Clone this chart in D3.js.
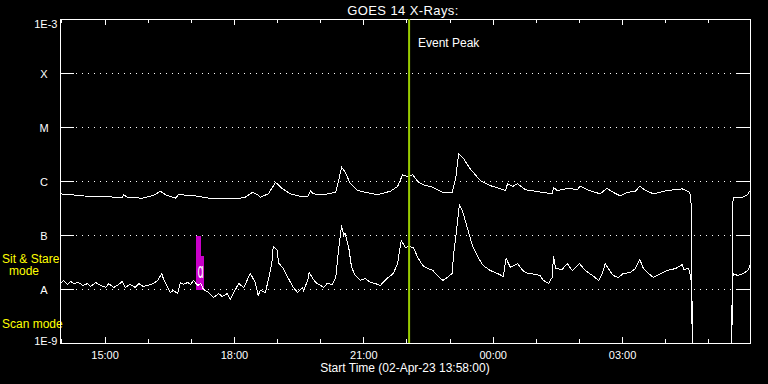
<!DOCTYPE html>
<html>
<head>
<meta charset="utf-8">
<script src="https://cdn.jsdelivr.net/npm/d3@7"></script>
<style>
  html, body { margin: 0; padding: 0; background: #000; }
  svg { display: block; background: #000; }
  text { font-family: "Liberation Sans", Arial, sans-serif; fill: #fff; }
</style>
</head>
<body>
<svg id="chart" width="768" height="384"></svg>
<script>
// GOES 14 X-ray flux, 02-Apr-23 13:58 -> 03-Apr-23 05:58
var startTime = "13:58",
    endTime = "05:58",
    eventPeak = "22:03";

// long channel (1-8 A), W/m^2 ; 0 = data dropout
var longTimes = ["13:58", "14:12", "14:37", "15:24", "15:26", "15:31", "15:52", "16:07", "16:17", "16:24",
    "16:38", "16:42", "17:02", "17:17", "17:29", "18:04", "18:15", "18:25", "18:32", "18:36",
    "18:47", "18:53", "18:57", "19:07", "19:18", "19:32", "19:42", "19:46", "19:50", "20:04",
    "20:21", "20:25", "20:29", "20:34", "20:41", "20:51", "21:19", "21:37", "21:47", "21:54",
    "22:01", "22:08", "22:16", "22:23", "22:36", "22:50", "23:03", "23:08", "23:12", "23:19",
    "23:28", "23:42", "23:56", "00:17", "00:20", "00:27", "00:34", "00:45", "00:52", "01:16",
    "01:22", "01:24", "01:29", "01:45", "01:57", "02:01", "02:11", "02:29", "02:38", "02:47",
    "02:57", "03:07", "03:18", "03:24", "03:32", "03:43", "04:02", "04:23", "04:32", "04:35",
    "04:36", "04:37", "05:32", "05:33", "05:34", "05:47", "05:54", "05:58"];
var longFlux = [5.9e-7, 5.7e-7, 5.3e-7, 5.1e-7, 5.7e-7, 5.1e-7, 4.9e-7, 5.5e-7, 6.6e-7, 5.7e-7,
    4.9e-7, 5.7e-7, 5.5e-7, 5.1e-7, 4.8e-7, 4.8e-7, 5.1e-7, 6.3e-7, 5.7e-7, 5.1e-7,
    5.9e-7, 7.8e-7, 9.7e-7, 7.3e-7, 5.9e-7, 5.3e-7, 5.3e-7, 6.6e-7, 5.9e-7, 5.7e-7,
    6.3e-7, 1.04e-6, 1.84e-6, 1.49e-6, 9.3e-7, 6.8e-7, 5.7e-7, 6.6e-7, 8.1e-7, 1.33e-6,
    1.24e-6, 1.33e-6, 9.7e-7, 8.7e-7, 7.8e-7, 6.3e-7, 6.2e-7, 1.2e-6, 3.26e-6, 2.63e-6,
    1.72e-6, 1.04e-6, 8.4e-7, 6.8e-7, 9.1e-7, 8.1e-7, 9.1e-7, 7.0e-7, 6.8e-7, 6.1e-7,
    5.9e-7, 7.8e-7, 6.8e-7, 7.5e-7, 7.0e-7, 8.2e-7, 7.0e-7, 5.9e-7, 7.5e-7, 6.3e-7,
    5.4e-7, 6.3e-7, 6.6e-7, 8.2e-7, 6.8e-7, 5.9e-7, 6.8e-7, 7.3e-7, 6.5e-7, 5.5e-7,
    1.5e-7, 0, 0, 3.3e-7, 5.0e-7, 5.1e-7, 5.7e-7, 7.0e-7];

// short channel (0.5-4 A), in units of 1e-9 W/m^2 ; 0 = data dropout
var shortTimes = ["13:58", "13:59", "14:02", "14:08", "14:12", "14:16", "14:23", "14:29", "14:36", "14:40",
    "14:47", "14:54", "15:01", "15:05", "15:12", "15:19", "15:24", "15:28", "15:35", "15:42",
    "15:47", "15:53", "16:00", "16:07", "16:13", "16:19", "16:21", "16:27", "16:31", "16:35",
    "16:41", "16:45", "16:49", "16:55", "16:59", "17:03", "17:09", "17:13", "17:17", "17:24",
    "17:31", "17:38", "17:43", "17:50", "17:54", "17:59", "18:06", "18:13", "18:22", "18:29",
    "18:33", "18:36", "18:43", "18:47", "18:52", "18:54", "19:00", "19:01", "19:08", "19:18",
    "19:22", "19:28", "19:35", "19:36", "19:42", "19:44", "19:49", "19:53", "20:00", "20:04",
    "20:09", "20:16", "20:21", "20:25", "20:29", "20:32", "20:34", "20:39", "20:43", "20:48",
    "20:55", "21:02", "21:09", "21:16", "21:23", "21:27", "21:34", "21:41", "21:47", "21:52",
    "21:58", "22:02", "22:09", "22:15", "22:22", "22:29", "22:36", "22:42", "22:50", "22:56",
    "23:03", "23:05", "23:09", "23:13", "23:17", "23:24", "23:31", "23:40", "23:46", "23:56",
    "00:06", "00:14", "00:18", "00:24", "00:34", "00:41", "00:48", "00:52", "01:05", "01:10",
    "01:17", "01:22", "01:24", "01:27", "01:36", "01:43", "01:50", "02:00", "02:08", "02:18",
    "02:27", "02:32", "02:36", "02:40", "02:47", "02:54", "03:01", "03:11", "03:18", "03:24",
    "03:29", "03:36", "03:43", "03:53", "04:02", "04:14", "04:23", "04:25", "04:32", "04:35",
    "04:36", "04:37", "05:32", "05:33", "05:34", "05:40", "05:48", "05:54", "05:58"];
var shortFluxNano = [13.5, 13.5, 14.7, 12.4, 14.1, 12.9, 13.5, 11.9, 12.9, 11.4,
    13.5, 11.9, 10.9, 12.9, 10.9, 12.4, 14.1, 10.9, 12.4, 10.9,
    12.9, 11.4, 11.9, 12.9, 14.7, 19.8, 16.0, 10.9, 8.8, 9.6,
    8.4, 13.5, 12.4, 13.5, 12.4, 14.7, 11.9, 12.9, 10.0, 8.8,
    7.1, 8.4, 7.4, 8.4, 6.5, 8.8, 12.9, 10.9, 19.8, 13.5,
    7.7, 9.6, 8.8, 14.7, 30.3, 62.5, 52.7, 31.6, 24.5, 13.5,
    10.9, 8.8, 10.9, 9.6, 14.7, 20.7, 16.0, 13.5, 11.9, 10.9,
    12.9, 12.4, 16.7, 57.4, 153, 100, 109, 60, 25.6, 18.2,
    14.7, 16.0, 13.5, 12.9, 11.9, 13.5, 16.7, 19.8, 30.3, 80.7,
    60, 62.5, 60, 39.1, 27.8, 24.5, 22.5, 18.2, 14.7, 16.7,
    19.8, 46.5, 124, 375, 290, 140, 65.3, 37.5, 27.8, 22.5,
    19.8, 17.4, 37.5, 25.6, 30.3, 22.5, 19.8, 19.8, 18.2, 14.7,
    12.9, 16.7, 40.8, 24.5, 23.5, 30.3, 22.5, 30.3, 22.5, 18.2,
    14.7, 19.8, 30.3, 24.5, 18.2, 16.7, 19.8, 20.7, 24.5, 36,
    24.5, 19.8, 16.7, 19.8, 22.5, 24.5, 29.0, 23.5, 24.5, 16.7,
    9.6, 0, 0, 14.7, 19.8, 18.2, 19.8, 22.5, 29.0];

// y axis: flux levels and their labels
var levelValues = [1e-9, 1e-8, 1e-7, 1e-6, 1e-5, 1e-4, 1e-3];
var levelLabels = ["1E-9", "A", "B", "C", "M", "X", "1E-3"];

// sit & stare mode blocks
var modeFrom = ["17:06", "17:13"],
    modeTo = ["17:13", "17:18"],
    modeTop = [1e-7, 4.1e-8];

var svg = d3.select("#chart"),
    plotL = 60, plotR = 750, plotT = 19, plotB = 343;

function parseTime(s) {
    var p = s.split(":"), h = +p[0], m = +p[1];
    return new Date(2023, 3, h < 12 ? 3 : 2, h, m);
}

var x = d3.scaleTime()
    .domain([parseTime(startTime), parseTime(endTime)])
    .range([plotL + 0.5, plotR + 0.5]);

var y = d3.scaleLog()
    .domain([1e-9, 1e-3])
    .range([plotB + 0.5, plotT + 0.5]);

function yVal(v) { return v > 0 ? y(v) : plotB + 0.5; }

var longData = longTimes.map(function (t, i) { return { t: parseTime(t), v: longFlux[i] }; });
var shortData = shortTimes.map(function (t, i) { return { t: parseTime(t), v: shortFluxNano[i] * 1e-9 }; });

// title
svg.append("text")
    .attr("x", 403).attr("y", 15)
    .attr("text-anchor", "middle")
    .style("font-size", "13px")
    .style("letter-spacing", "0.4px")
    .text("GOES 14 X-Rays:");

// grid lines (dotted) and y ticks
var inner = levelValues.slice(1, -1);
svg.append("g").selectAll("line")
    .data(inner)
    .enter().append("line")
    .attr("x1", plotL + 16).attr("x2", plotR - 14)
    .attr("y1", function (d) { return y(d); })
    .attr("y2", function (d) { return y(d); })
    .attr("stroke", "#fff")
    .attr("stroke-dasharray", "1 5")
    .attr("shape-rendering", "crispEdges");

var yt = svg.append("g").attr("shape-rendering", "crispEdges");
yt.selectAll(".tl").data(inner).enter().append("line")
    .attr("x1", plotL).attr("x2", plotL + 14)
    .attr("y1", function (d) { return y(d); })
    .attr("y2", function (d) { return y(d); })
    .attr("stroke", "#fff");
yt.selectAll(".tr").data(inner).enter().append("line")
    .attr("x1", plotR - 14).attr("x2", plotR)
    .attr("y1", function (d) { return y(d); })
    .attr("y2", function (d) { return y(d); })
    .attr("stroke", "#fff");

// y labels
svg.append("g").selectAll("text")
    .data(levelValues)
    .enter().append("text")
    .attr("x", function (d, i) { return (i === 0 || i === levelValues.length - 1) ? 57.5 : 44; })
    .attr("y", function (d, i) {
        if (i === 0) return y(d) + 1;
        if (i === levelValues.length - 1) return y(d) + 8;
        return y(d) + 4.5;
    })
    .attr("text-anchor", function (d, i) { return (i === 0 || i === levelValues.length - 1) ? "end" : "middle"; })
    .style("font-size", "11px")
    .text(function (d, i) { return levelLabels[i]; });

// mode labels
var modeLabels = [["Sit & Stare", 2, 262.5], ["mode", 24, 275], ["Scan mode", 2, 327.5]];
svg.append("g").selectAll("text")
    .data(modeLabels)
    .enter().append("text")
    .attr("x", function (d) { return d[1]; })
    .attr("y", function (d) { return d[2]; })
    .attr("text-anchor", function (d) { return d[0] === "mode" ? "middle" : "start"; })
    .style("font-size", "12px")
    .style("fill", "#ffff00")
    .text(function (d) { return d[0]; });

// sit & stare blocks
svg.append("g").selectAll("rect")
    .data(modeFrom)
    .enter().append("rect")
    .attr("x", function (d) { return x(parseTime(d)); })
    .attr("width", function (d, i) { return x(parseTime(modeTo[i])) - x(parseTime(d)); })
    .attr("y", function (d, i) { return y(modeTop[i]); })
    .attr("height", function (d, i) { return y(1e-8) - y(modeTop[i]); })
    .attr("fill", "#c800c8")
    .attr("shape-rendering", "crispEdges");

svg.append("text")
    .attr("transform", "translate(" + x(parseTime("17:13")) + ",278) scale(0.7,1.5)")
    .attr("text-anchor", "middle")
    .style("font-family", "DejaVu Sans")
    .style("font-size", "14px")
    .text("\u0251");

// data curves
var line = d3.line()
    .x(function (d) { return x(d.t); })
    .y(function (d) { return yVal(d.v); });

[longData, shortData].forEach(function (data) {
    svg.append("path")
        .datum(data)
        .attr("d", line)
        .attr("fill", "none")
        .attr("stroke", "#fff")
        .attr("stroke-width", 1)
        .attr("shape-rendering", "crispEdges");
});

// x ticks (top and bottom)
var hours = d3.timeHour.range(parseTime(startTime), parseTime(endTime));
var xt = svg.append("g").attr("shape-rendering", "crispEdges");
hours.forEach(function (h) {
    var len = h.getHours() % 3 === 0 ? 6 : 4, xp = x(h);
    xt.append("line").attr("x1", xp).attr("x2", xp)
        .attr("y1", plotB).attr("y2", plotB - len).attr("stroke", "#fff");
    xt.append("line").attr("x1", xp).attr("x2", xp)
        .attr("y1", plotT).attr("y2", plotT + len).attr("stroke", "#fff");
});

svg.append("g").selectAll("text")
    .data(hours.filter(function (h) { return h.getHours() % 3 === 0; }))
    .enter().append("text")
    .attr("x", function (d) { return x(d); })
    .attr("y", 359)
    .attr("text-anchor", "middle")
    .style("font-size", "11px")
    .text(d3.timeFormat("%H:%M"));

svg.append("text")
    .attr("x", 405).attr("y", 372)
    .attr("text-anchor", "middle")
    .style("font-size", "12px")
    .text("Start Time (02-Apr-23 13:58:00)");

// frame
svg.append("rect")
    .attr("x", plotL + 0.5).attr("y", plotT + 0.5)
    .attr("width", plotR - plotL).attr("height", plotB - plotT)
    .attr("fill", "none")
    .attr("stroke", "#fff")
    .attr("shape-rendering", "crispEdges");

// event peak marker
svg.append("line")
    .attr("x1", x(parseTime(eventPeak))).attr("x2", x(parseTime(eventPeak)))
    .attr("y1", plotT).attr("y2", plotB)
    .attr("stroke", "#99cc00")
    .attr("stroke-width", 2);

svg.append("text")
    .attr("x", 418).attr("y", 47)
    .style("font-size", "12px")
    .text("Event Peak");
</script>
</body>
</html>
